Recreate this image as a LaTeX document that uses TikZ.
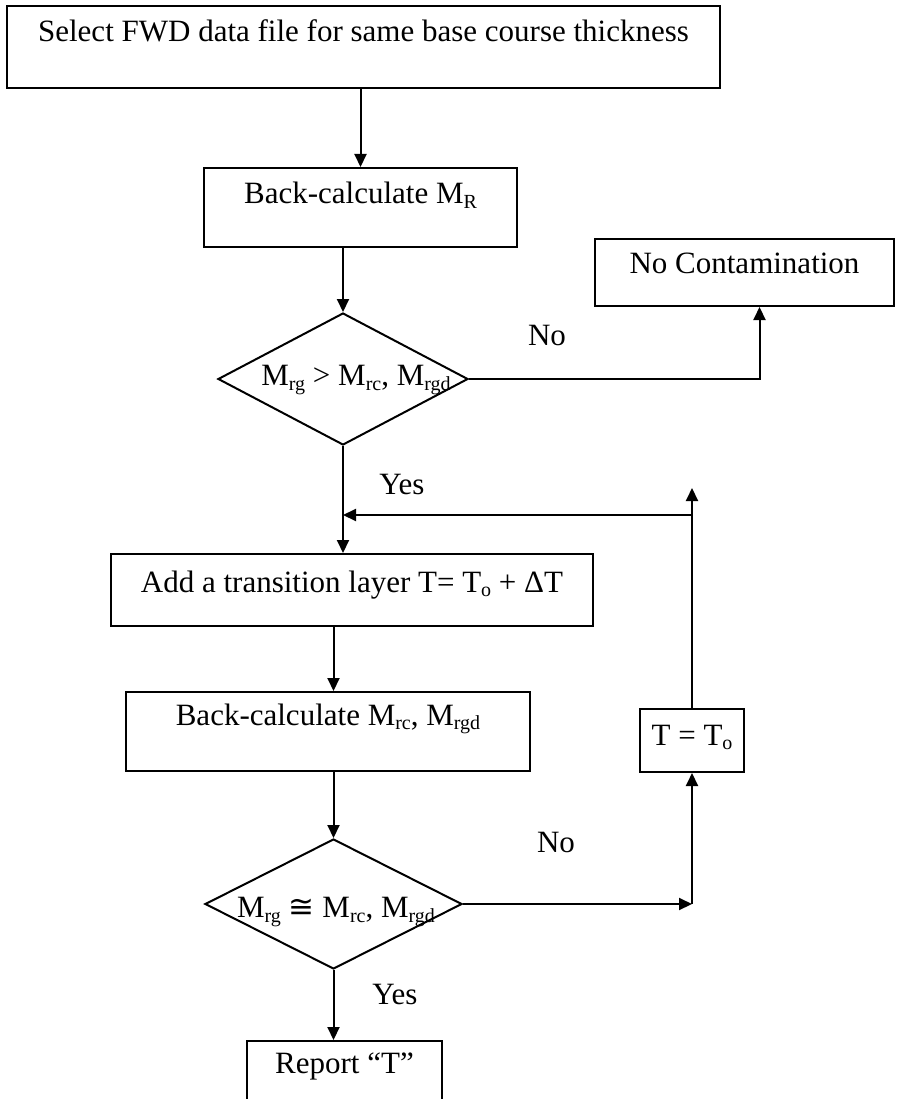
\documentclass[tikz,border=0pt]{standalone}
\usepackage{fontspec}
\setmainfont{Liberation Serif}
\newfontfamily\symf{DejaVu Sans}
\newcommand\sub[1]{\raisebox{-0.16em}{\fontsize{20}{24}\selectfont #1}}
\usepackage{tikz}
\usetikzlibrary{
  arrows.meta,
  shapes.geometric}

\begin{document}
\begin{tikzpicture}[x=1pt,y=-1pt,line width=2pt,
  every node/.style={font=\fontsize{31}{37}\selectfont},
  box/.style={draw,inner sep=0pt,anchor=base},
  decision/.style={draw,diamond,inner sep=0pt},
  flow/.style={-{Triangle[length=13pt,width=12pt]}}]
\useasboundingbox (0,0) rectangle (896,1099);
\node[box,minimum width=713pt,text height=36pt,text depth=46pt] (select) at (363.5,42) {Select FWD data file for same base course thickness};
\node[box,minimum width=313pt,text height=36pt,text depth=43pt] (backR) at (360.5,204) {Back-calculate M\sub{R}};
\node[box,minimum width=299pt,text height=34pt,text depth=33pt] (nocont) at (744.5,273) {No Contamination};
\node[decision,minimum width=250pt,minimum height=132pt,
  label={[anchor=base,xshift=13pt,yshift=-1pt]center:M\sub{rg} > M\sub{rc}, M\sub{rgd}}] (d1) at (343,379) {};
\node[box,minimum width=482pt,text height=38pt,text depth=34pt] (addT) at (352,592) {Add a transition layer T= T\sub{o} + ΔT};
\node[box,minimum width=404pt,text height=33pt,text depth=46pt] (backMrc) at (328,725) {Back-calculate M\sub{rc}, M\sub{rgd}};
\node[box,minimum width=104pt,text height=36pt,text depth=27pt] (tset) at (692,745) {T = T\sub{o}};
\node[decision,minimum width=257pt,minimum height=130pt,
  label={[anchor=base,xshift=2.5pt,yshift=-8pt]center:M\sub{rg} {\symf ≅} M\sub{rc}, M\sub{rgd}}] (d2) at (333.5,904) {};
\node[box,minimum width=195pt,text height=32pt,text depth=45pt] (report) at (344.5,1073) {Report ``T''};

\node[anchor=base] (no1) at (547,345) {No};
\node[anchor=base] (yes1) at (402,494) {Yes};
\node[anchor=base] (no2) at (556,852) {No};
\node[anchor=base] (yes2) at (395,1004) {Yes};
\coordinate (loopup) at (692,488);
\coordinate (loopin) at (692,515);

\draw[flow] (backR.north |- select.south) -- (backR.north);
\draw[flow] (d1.north |- backR.south) -- (d1.north);
\draw[flow] (d1.east) -| ([xshift=15pt]nocont.south);
\draw[flow] (d1.south) -- (d1.south |- addT.north);
\draw[flow] (loopin) -- (loopin -| d1.south);
\draw[flow] (tset.north) -- (loopup);
\draw[flow] (d2.north |- addT.south) -- (d2.north |- backMrc.north);
\draw[flow] (d2.north |- backMrc.south) -- (d2.north);
\draw[flow] (d2.east) -- (d2.east -| tset.south);
\draw[flow] (d2.east -| tset.south) -- (tset.south);
\draw[flow] (d2.south) -- (d2.south |- report.north);
\end{tikzpicture}
\end{document}
